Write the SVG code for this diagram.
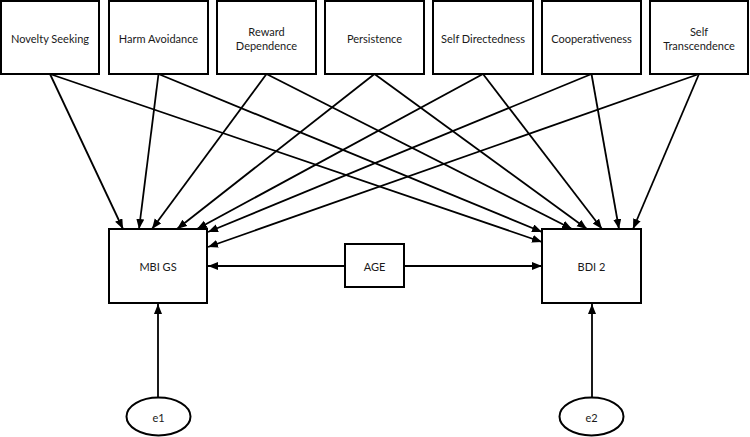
<svg xmlns="http://www.w3.org/2000/svg" width="750" height="437" viewBox="0 0 750 437">
<defs>
<style>
.box{fill:#fff;stroke:#000;stroke-width:2}
.t{font-family:Lato,"Open Sans","Liberation Sans",sans-serif;font-size:11px;fill:#1a1a1a;text-anchor:middle;dominant-baseline:central}
.c{stroke:#000;stroke-width:1.8;fill:none;marker-end:url(#ah)}
</style>
<marker id="ah" markerUnits="userSpaceOnUse" markerWidth="11" markerHeight="9" refX="10" refY="4" orient="auto">
<path d="M0,0 L10,4 L0,8 z" fill="#000"/>
</marker>
</defs>
<rect width="750" height="437" fill="#fff"/>
<g id="connectors">
<line class="c" x1="50" y1="74" x2="123" y2="229"/>
<line class="c" x1="50" y1="74" x2="542" y2="242"/>
<line class="c" x1="158.5" y1="74" x2="139" y2="229"/>
<line class="c" x1="158.5" y1="74" x2="542" y2="232"/>
<line class="c" x1="266.5" y1="74" x2="152" y2="229"/>
<line class="c" x1="266.5" y1="74" x2="572" y2="229"/>
<line class="c" x1="374.5" y1="74" x2="177" y2="229"/>
<line class="c" x1="374.5" y1="74" x2="587" y2="229"/>
<line class="c" x1="483" y1="74" x2="197" y2="229"/>
<line class="c" x1="483" y1="74" x2="602" y2="229"/>
<line class="c" x1="591.5" y1="74" x2="208" y2="232"/>
<line class="c" x1="591.5" y1="74" x2="619" y2="229"/>
<line class="c" x1="699" y1="74" x2="208" y2="247"/>
<line class="c" x1="699" y1="74" x2="633" y2="229"/>
<line class="c" x1="345" y1="266" x2="208" y2="266"/>
<line class="c" x1="404" y1="266" x2="542" y2="266"/>
<line class="c" x1="158" y1="397" x2="158" y2="304"/>
<line class="c" x1="592" y1="397" x2="592" y2="304"/>
</g>
<g id="novelty"><rect class="box" x="1" y="1" width="98" height="73"/><text class="t" x="50" y="38">Novelty Seeking</text></g>
<g id="harm"><rect class="box" x="109" y="1" width="99" height="73"/><text class="t" x="158.5" y="38">Harm Avoidance</text></g>
<g id="reward"><rect class="box" x="217" y="1" width="99" height="73"/><text class="t" x="266.5" y="31">Reward</text><text class="t" x="266.5" y="45">Dependence</text></g>
<g id="persistence"><rect class="box" x="325" y="1" width="99" height="73"/><text class="t" x="374.5" y="38">Persistence</text></g>
<g id="selfdir"><rect class="box" x="433" y="1" width="100" height="73"/><text class="t" x="483" y="38">Self Directedness</text></g>
<g id="coop"><rect class="box" x="542" y="1" width="99" height="73"/><text class="t" x="591.5" y="38">Cooperativeness</text></g>
<g id="selftrans"><rect class="box" x="650" y="1" width="98" height="73"/><text class="t" x="699" y="31">Self</text><text class="t" x="699" y="45">Transcendence</text></g>
<g id="mbi"><rect class="box" x="109" y="229" width="98" height="74"/><text class="t" x="158" y="266">MBI GS</text></g>
<g id="age"><rect class="box" x="345" y="244" width="59" height="43"/><text class="t" x="374.5" y="266">AGE</text></g>
<g id="bdi"><rect class="box" x="542" y="229" width="99" height="74"/><text class="t" x="591.5" y="266">BDI 2</text></g>
<g id="e1"><ellipse class="box" cx="158.5" cy="416.5" rx="32" ry="19"/><text class="t" x="158.5" y="417">e1</text></g>
<g id="e2"><ellipse class="box" cx="591.5" cy="416.5" rx="32" ry="19"/><text class="t" x="591.5" y="417">e2</text></g>
</svg>
